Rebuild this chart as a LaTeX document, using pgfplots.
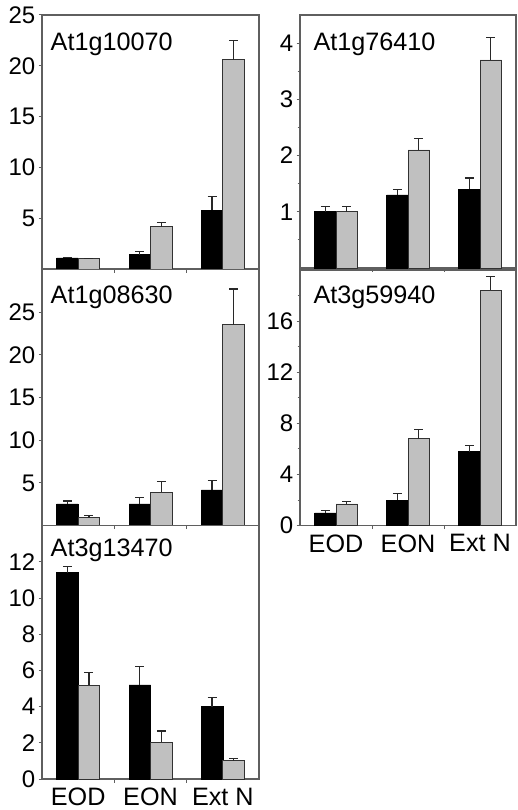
\documentclass[border=0pt]{standalone}
\usepackage{fontspec}
\setmainfont{Liberation Sans}
\usepackage{pgfplots}
\pgfplotsset{compat=1.18}
\definecolor{axisgray}{RGB}{95,95,95}
\definecolor{barg}{RGB}{192,192,192}
\definecolor{edgeg}{RGB}{50,50,50}
\definecolor{errg}{RGB}{40,40,40}
\newcommand{\bigfont}{\fontsize{24}{28}\selectfont}
\newcommand{\titlefont}{\fontsize{25.2}{29}\selectfont}
\pgfplotsset{
  panel/.style={
    scale only axis, width=217pt,
    xmin=-0.5, xmax=2.5, ymin=0,
    axis line style={draw=axisgray, line width=1.4pt},
    ybar=0pt, bar width=21.5pt,
    tick align=outside, major tick length=3.5pt, minor tick length=2.5pt,
    tick style={draw=axisgray, line width=1pt},
    xtick={0.5,1.5}, xticklabels={,},
    extra x ticks={0,1,2}, extra x tick style={major tick length=0pt},
    extra x tick labels={,,},
    xtick pos=bottom, ytick pos=left,
    /pgf/number format/assume math mode=true,
    yticklabel style={font=\bigfont, inner sep=0pt, xshift=-3pt},
    xticklabel style={font=\titlefont, inner sep=0pt, anchor=north, yshift=-8.5pt},
  },
  blk/.style={fill=black, draw=black, line width=0.6pt,
    error bars/.cd, y dir=plus, y explicit,
    error bar style={line width=1.2pt, draw=errg},
    error mark options={rotate=90, mark size=4.5pt, line width=1.2pt, draw=errg}},
  gry/.style={fill=barg, draw=edgeg, line width=0.8pt,
    error bars/.cd, y dir=plus, y explicit,
    error bar style={line width=1.2pt, draw=errg},
    error mark options={rotate=90, mark size=4.5pt, line width=1.2pt, draw=errg}},
}
\begin{document}
\begin{tikzpicture}
\path[use as bounding box] (0pt,0pt) rectangle (517pt,-810pt);

% Panel 1: At1g10070
\begin{axis}[panel, at={(42pt,-269pt)}, anchor=south west, height=254pt,
  ymax=25, ytick={5,10,15,20,25}]
\addplot[blk] coordinates {(0,1.1) +- (0,0.05) (1,1.4) +- (0,0.3) (2,5.8) +- (0,1.3)};
\addplot[gry] coordinates {(0,1.0) +- (0,0.05) (1,4.15) +- (0,0.4) (2,20.6) +- (0,1.9)};
\end{axis}
\node[anchor=base west, inner sep=0pt, font=\titlefont] at (50.5pt,-50.5pt) {At1g10070};

% Panel 2: At1g76410
\begin{axis}[panel, at={(300pt,-268pt)}, anchor=south west, width=216pt, height=253pt,
  ymax=4.5, ytick={1,2,3,4}, minor ytick={0.5,1.5,2.5,3.5}]
\addplot[blk] coordinates {(0,1.0) +- (0,0.1) (1,1.3) +- (0,0.1) (2,1.4) +- (0,0.2)};
\addplot[gry] coordinates {(0,1.0) +- (0,0.1) (1,2.1) +- (0,0.2) (2,3.7) +- (0,0.4)};
\end{axis}
\node[anchor=base west, inner sep=0pt, font=\titlefont] at (313.3pt,-50.7pt) {At1g76410};

% Panel 3: At1g08630
\begin{axis}[panel, at={(42pt,-525.7pt)}, anchor=south west, height=256.4pt,
  ymax=30, ytick={5,10,15,20,25}]
\addplot[blk] coordinates {(0,2.55) +- (0,0.35) (1,2.55) +- (0,0.75) (2,4.2) +- (0,1.1)};
\addplot[gry] coordinates {(0,0.94) +- (0,0.26) (1,3.9) +- (0,1.25) (2,23.5) +- (0,4.2)};
\end{axis}
\node[anchor=base west, inner sep=0pt, font=\titlefont] at (50.5pt,-303.3pt) {At1g08630};

% Panel 4: At3g59940
\begin{axis}[panel, at={(300pt,-525.7pt)}, anchor=south west, width=216pt, height=255.7pt,
  ymax=20, ytick={0,4,8,12,16}, minor ytick={2,6,10,14,18},
  extra x tick labels={EOD,EON,Ext N}]
\addplot[blk] coordinates {(0,1.0) +- (0,0.2) (1,2.0) +- (0,0.5) (2,5.8) +- (0,0.5)};
\addplot[gry] coordinates {(0,1.7) +- (0,0.2) (1,6.8) +- (0,0.75) (2,18.4) +- (0,1.1)};
\end{axis}
\node[anchor=base west, inner sep=0pt, font=\titlefont] at (313.3pt,-303.3pt) {At3g59940};

% Panel 5: At3g13470
\begin{axis}[panel, at={(42pt,-779pt)}, anchor=south west, height=253.3pt,
  ymax=14, ytick={0,2,4,6,8,10,12},
  extra x tick labels={EOD,EON,Ext N}]
\addplot[blk] coordinates {(0,11.4) +- (0,0.35) (1,5.2) +- (0,1.0) (2,4.0) +- (0,0.5)};
\addplot[gry] coordinates {(0,5.17) +- (0,0.7) (1,2.03) +- (0,0.62) (2,1.01) +- (0,0.13)};
\end{axis}
\node[anchor=base west, inner sep=0pt, font=\titlefont] at (50.5pt,-556pt) {At3g13470};
\end{tikzpicture}
\end{document}
